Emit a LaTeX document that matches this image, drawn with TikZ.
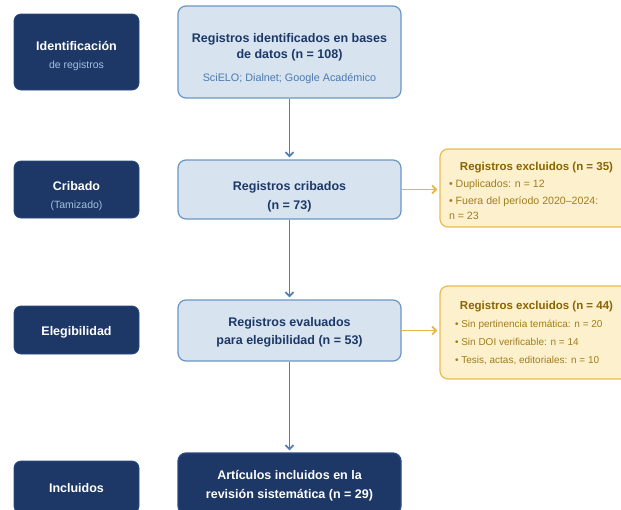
\documentclass[tikz,border=0pt]{standalone}
\usepackage{fontspec}
\setmainfont{Liberation Sans}
\usetikzlibrary{arrows.meta}
\definecolor{navy}{HTML}{1D3866}
\definecolor{navyedge}{HTML}{2A4A80}
\definecolor{lightfill}{HTML}{D7E4F0}
\definecolor{lightedge}{HTML}{6A96C6}
\definecolor{flowblue}{HTML}{4F7FB8}
\definecolor{subblue}{HTML}{4A78B0}
\definecolor{palesub}{HTML}{A3C0E4}
\definecolor{orfill}{HTML}{FDF0CC}
\definecolor{oredge}{HTML}{E8BB50}
\definecolor{orarrow}{HTML}{E8B545}
\definecolor{excltitle}{HTML}{8A6400}
\definecolor{excltext}{HTML}{A07D1C}
\tikzset{
  phase/.style={rectangle, rounded corners=7pt, fill=navy, draw=navyedge, line width=0.8pt,
    minimum width=125pt, inner sep=0pt},
  phasetext/.style={text=white, align=center, inner sep=0pt,
    font=\bfseries\fontsize{12.5}{16}\selectfont},
  phasesub/.style={text=palesub, align=center, inner sep=0pt,
    font=\fontsize{10.5}{13}\selectfont},
  stepbox/.style={rectangle, rounded corners=8pt, fill=lightfill, draw=lightedge, line width=1.2pt,
    minimum width=223pt, inner sep=0pt},
  finalbox/.style={stepbox, fill=navy, draw=navyedge},
  steptext/.style={text=navy, align=center, inner sep=0pt,
    font=\bfseries\fontsize{12.5}{19}\selectfont},
  finaltext/.style={steptext, text=white},
  stepsub/.style={text=subblue, align=center, inner sep=0pt,
    font=\fontsize{10.8}{13}\selectfont},
  exclbox/.style={rectangle, rounded corners=8pt, fill=orfill, draw=oredge, line width=1.2pt,
    minimum width=193pt, inner sep=0pt},
  excltext/.style={inner sep=0pt},
  flow/.style={draw=flowblue, line width=1.8pt, -{Straight Barb[length=4pt,width=8pt]}, shorten >=2pt},
  oflow/.style={draw=orarrow, line width=1.8pt, -{Straight Barb[length=4pt,width=8pt]}, shorten >=2pt},
}
\newcommand{\excltitlefmt}{\centering\color{excltitle}\bfseries\fontsize{11.5}{14}\selectfont}
\newcommand{\excltextfmt}{\raggedright\color{excltext}\mdseries\fontsize{10}{15}\selectfont}
\begin{document}
\begin{tikzpicture}[x=1pt,y=-1pt]
\useasboundingbox (0,0) rectangle (621,509);
\clip (0,0) rectangle (621,509);
% phase labels
\node[phase, minimum height=76pt] (p1) at (76.5,52) {};
\node[phasetext] (p1t) at (76.5,46) {Identificación};
\node[phasesub] (p1s) at (76.5,66) {de registros};
\node[phase, minimum height=57pt] (p2) at (76.5,189.5) {};
\node[phasetext] (p2t) at (76.5,186.5) {Cribado};
\node[phasesub] (p2s) at (76.5,206) {(Tamizado)};
\node[phase, minimum height=48pt] (p3) at (76.5,330) {};
\node[phasetext] (p3t) at (76.5,332.5) {Elegibilidad};
\node[phase, minimum height=52pt] (p4) at (76.5,487) {};
\node[phasetext] (p4t) at (76.5,488.5) {Incluidos};
% main flow
\node[stepbox, minimum height=92pt] (b1) at (289.5,52) {};
\node[steptext, font=\bfseries\fontsize{12.5}{16}\selectfont] (b1t) at (289.5,47.5) {Registros identificados en bases\\de datos (n = 108)};
\node[stepsub] (b1s) at (289.5,79) {SciELO; Dialnet; Google Académico};
\node[stepbox, minimum height=59pt] (b2) at (289.5,189.5) {};
\node[steptext] (b2t) at (289.5,196.5) {Registros cribados\\(n = 73)};
\node[stepbox, minimum height=61pt] (b3) at (289.5,330.5) {};
\node[steptext, font=\bfseries\fontsize{12.5}{18}\selectfont] (b3t) at (289.5,332) {Registros evaluados\\para elegibilidad (n = 53)};
\node[finalbox, minimum height=61pt] (b4) at (289.5,483.5) {};
\node[finaltext] (b4t) at (289.5,486) {Artículos incluidos en la\\revisión sistemática (n = 29)};
% exclusions
\node[exclbox, minimum height=78pt] (e1) at (536.5,188) {};
\node[excltext] (e1t) at (536.5,190.5) {\begin{minipage}{175pt}\excltitlefmt Registros excluidos (n = 35)\par\vspace{2pt}
\excltextfmt\fontsize{10.6}{15}\selectfont • Duplicados: n = 12\par\vspace{2pt}
• Fuera del período 2020–2024:\\n = 23\par\end{minipage}};
\node[exclbox, minimum height=93pt] (e2) at (536.5,332.5) {};
\node[excltext] (e2t) at (536.5,332.5) {\begin{minipage}{175pt}\excltitlefmt Registros excluidos (n = 44)\par\vspace{3pt}
\excltextfmt\leftskip=6pt • Sin pertinencia temática: n = 20\par\vspace{3pt}
• Sin DOI verificable: n = 14\par\vspace{3pt}
• Tesis, actas, editoriales: n = 10\par\end{minipage}};
% connectors
\draw[flow] (b1) -- (b2);
\draw[flow] (b2) -- (b3);
\draw[flow] (b3) -- (b4);
\draw[oflow] (b2.east) -- (b2.east -| e1.west);
\draw[oflow] (b3.east) -- (b3.east -| e2.west);
\end{tikzpicture}
\end{document}
